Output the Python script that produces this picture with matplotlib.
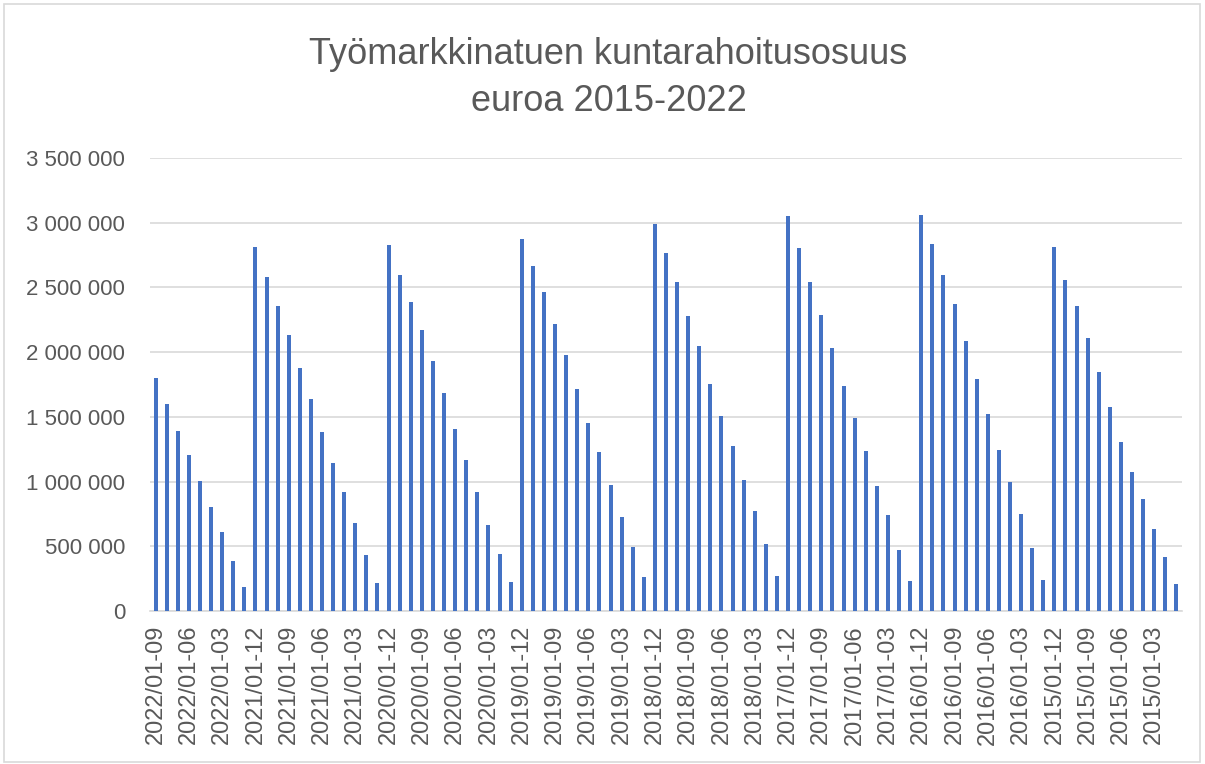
import matplotlib
matplotlib.use("Agg")
import matplotlib.pyplot as plt
from matplotlib.patches import Rectangle
from matplotlib.ticker import FuncFormatter

plt.rcParams["font.family"] = ["Liberation Sans", "DejaVu Sans"]

TITLE = "Työmarkkinatuen kuntarahoitusosuus\neuroa 2015-2022"

# cumulative year-to-date values, newest first (2022/01-09 ... 2015/01-01)
YEARS = [2022, 2021, 2020, 2019, 2018, 2017, 2016, 2015]
VALUES = {
    2022: [1799000, 1600000, 1394000, 1206000, 1005000, 807000, 613000, 387000, 188000],
    2021: [2812000, 2580000, 2353000, 2129000, 1876000, 1637000, 1384000, 1147000,
           923000, 683000, 433000, 219000],
    2020: [2827000, 2598000, 2387000, 2168000, 1930000, 1683000, 1410000, 1165000,
           920000, 665000, 441000, 227000],
    2019: [2874000, 2668000, 2461000, 2217000, 1977000, 1719000, 1456000, 1227000,
           977000, 727000, 492000, 260000],
    2018: [2992000, 2763000, 2541000, 2281000, 2049000, 1753000, 1505000, 1273000,
           1013000, 773000, 518000, 268000],
    2017: [3054000, 2804000, 2541000, 2286000, 2033000, 1742000, 1495000, 1235000,
           969000, 740000, 469000, 232000],
    2016: [3062000, 2838000, 2593000, 2369000, 2088000, 1791000, 1523000, 1247000,
           1000000, 750000, 485000, 237000],
    2015: [2812000, 2559000, 2358000, 2108000, 1845000, 1580000, 1307000, 1077000,
           866000, 631000, 415000, 206000],
}

labels = []
values = []
for year in YEARS:
    vals = VALUES[year]
    n = len(vals)
    for i, v in enumerate(vals):
        labels.append(f"{year}/01-{n - i:02d}")
        values.append(v)

BAR_COLOR = "#4472C4"
GRID_COLOR = "#D9D9D9"
TEXT_COLOR = "#595959"

fig = plt.figure(figsize=(12.05, 7.64), dpi=100)
ax = fig.add_axes([150 / 1205, 1 - 611 / 764, 1032 / 1205, 453 / 764])

x = list(range(len(values)))
ax.bar(x, values, width=0.36, color=BAR_COLOR, zorder=3)

ax.set_xlim(-0.5, len(values) - 0.5)
ax.set_ylim(0, 3500000)
ax.set_yticks(range(0, 3500001, 500000))
ax.yaxis.set_major_formatter(
    FuncFormatter(lambda v, _: f"{int(v):,}".replace(",", " "))
)
ax.set_xticks(x[::3])
ax.set_xticklabels(labels[::3], rotation=90)

ax.grid(axis="y", color=GRID_COLOR, linewidth=1.2, zorder=0)
for side in ["top", "right", "left"]:
    ax.spines[side].set_visible(False)
ax.spines["bottom"].set_color(GRID_COLOR)
ax.spines["bottom"].set_linewidth(1.2)
ax.tick_params(axis="y", length=0, colors=TEXT_COLOR, labelsize=16, pad=18)
ax.tick_params(axis="x", length=0, colors=TEXT_COLOR, labelsize=17, pad=10)

fig.text(0.505, 1 - 78 / 764, TITLE, ha="center", va="center", fontsize=26,
         color=TEXT_COLOR, linespacing=1.45)

fig.patches.append(Rectangle((4 / 1205, 2 / 764), 1196 / 1205, 758 / 764,
                             transform=fig.transFigure, fill=False,
                             edgecolor=GRID_COLOR, linewidth=1.2))

fig.savefig("out.png", dpi=100)
